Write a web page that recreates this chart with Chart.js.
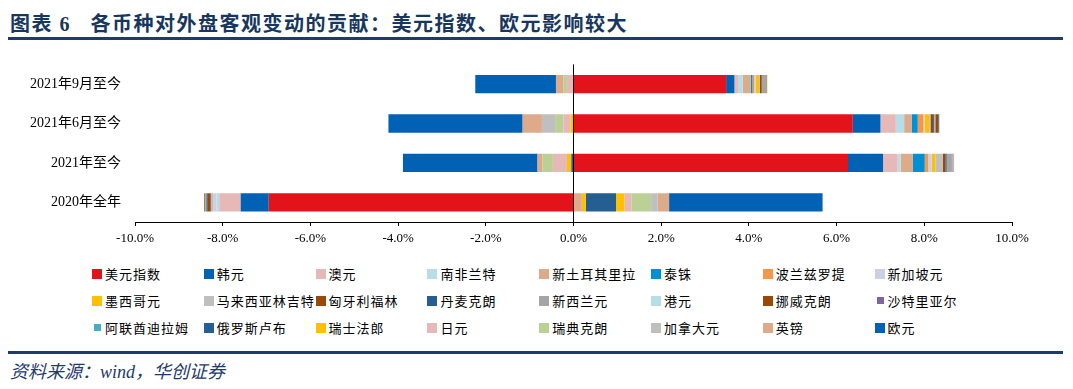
<!DOCTYPE html>
<html>
<head>
<meta charset="utf-8">
<script src="https://cdn.jsdelivr.net/npm/chart.js@4/dist/chart.umd.min.js"></script>
<style>
  html, body { margin: 0; padding: 0; background: #fff; }
  #wrap { position: relative; width: 1073px; height: 389px; overflow: hidden; }
  #title {
    position: absolute; left: 10px; top: 8px;
    font: bold 20px "Liberation Serif", "Noto Sans CJK SC", serif;
    color: #17375E; letter-spacing: 1.5px; white-space: pre;
  }
  .rule { position: absolute; left: 8px; width: 1055px; height: 3px; background: #1F3A6E; }
  #chartBox { position: absolute; left: 0; top: 50px; width: 1073px; height: 200px; }
  #legend { position: absolute; left: 0; top: 0; width: 1073px; }
  .item {
    position: absolute; display: flex; align-items: center;
    font: 13px "Noto Sans CJK SC", sans-serif; color: #000; letter-spacing: 1px; white-space: nowrap;
  }
  .sw { width: 10px; height: 10px; margin-right: 3px; }
  #source {
    position: absolute; left: 10px; top: 357px;
    font: italic 18px "Liberation Serif", "Noto Sans CJK SC", serif; color: #1F3A6E;
  }
</style>
</head>
<body>
<div id="wrap">
  <div id="title">图表 6   各币种对外盘客观变动的贡献：美元指数、欧元影响较大</div>
  <div class="rule" style="top:37px"></div>
  <div id="chartBox"><canvas id="chart" width="1073" height="200"></canvas></div>
  <div id="legend"></div>
  <div class="rule" style="top:351px"></div>
  <div id="source">资料来源：wind，华创证券</div>
</div>
<script>
// categories, top to bottom
const categories = ['2021年9月至今', '2021年6月至今', '2021年至今', '2020年全年']

// currency names and their colours (legend order = stacking order)
const names = ['美元指数', '韩元', '澳元', '南非兰特', '新土耳其里拉', '泰铢', '波兰兹罗提', '新加坡元',
  '墨西哥元', '马来西亚林吉特', '匈牙利福林', '丹麦克朗', '新西兰元', '港元', '挪威克朗', '沙特里亚尔',
  '阿联酋迪拉姆', '俄罗斯卢布', '瑞士法郎', '日元', '瑞典克朗', '加拿大元', '英镑', '欧元']
const colors = ['#E3131B', '#0061B5', '#E6B9B8', '#B7DEE8', '#DDAA8A', '#0090D6', '#F79646', '#CCD0E5',
  '#FFC000', '#BFBFBF', '#984807', '#255E91', '#A5A5A5', '#B7DEE8', '#984807', '#8064A2',
  '#4BACC6', '#255E91', '#FFC000', '#E6B9B8', '#BBD094', '#BFBFBF', '#DDAA8A', '#0061B5']

// contribution (%), one array per currency, in category order
const usd = [3.48, 6.37, 6.26, -6.95]
const krw = [0.19, 0.63, 0.80, -0.64]
const aud = [0.08, 0.35, 0.33, -0.49]
const zar = [0.11, 0.19, 0.07, -0.06]
const tryL = [0.18, 0.17, 0.28, 0.19]
const thb = [0.04, 0.14, 0.27, 0]
const pln = [0.04, 0.13, 0.08, 0]
const sgd = [0.03, 0.03, 0.08, -0.08]
const mxn = [0.08, 0.10, 0.08, 0.09]
const myr = [0.02, 0.03, 0.17, -0.05]
const huf = [0.04, 0.06, 0.06, -0.07]
const dkk = [0.01, 0.02, 0.03, -0.03]
const nzd = [0.09, 0.02, 0.12, -0.03]
const hkd = [0, 0.01, 0.01, 0]
const nok = [0.01, 0.07, 0.01, -0.02]
const sar = [0, 0, 0.01, 0]
const aed = [0, 0, 0, 0]
const rub = [0, 0.02, -0.05, 0.69]
const chf = [0.01, -0.07, -0.10, 0.19]
const jpy = [-0.15, -0.16, -0.32, 0.16]
const sek = [-0.08, -0.19, -0.24, 0.45]
const cad = [0.01, -0.30, 0.02, 0.15]
const gbp = [-0.17, -0.44, -0.11, 0.26]
const eur = [-1.84, -3.06, -3.07, 3.50]

const values = [usd, krw, aud, zar, tryL, thb, pln, sgd, mxn, myr, huf, dkk, nzd, hkd, nok, sar,
  aed, rub, chf, jpy, sek, cad, gbp, eur]

const datasets = names.map((n, i) => ({
  label: n,
  data: values[i],
  backgroundColor: colors[i],
  borderWidth: 0,
  categoryPercentage: 0.8,
  barPercentage: 0.58
}))

const axisFont = { family: '"Liberation Serif", "Noto Sans CJK SC", serif', size: 13 }

new Chart(document.getElementById('chart'), {
  type: 'bar',
  data: { labels: categories, datasets },
  options: {
    indexAxis: 'y',
    responsive: false,
    animation: false,
    layout: { padding: { top: 13, right: 61, bottom: 0, left: 0 } },
    plugins: { legend: { display: false }, tooltip: { enabled: false } },
    scales: {
      x: {
        stacked: true,
        min: -10, max: 10,
        ticks: {
          stepSize: 2, color: '#000', font: axisFont, padding: 5,
          callback: v => v.toFixed(1) + '%'
        },
        grid: {
          drawOnChartArea: true,
          color: c => (c.tick && c.tick.value === 0 ? '#000' : 'transparent'),
          tickColor: '#000', tickLength: 4, lineWidth: 1
        },
        border: { display: true, color: '#000', width: 1 },
        afterFit: s => { s.height = 28 }
      },
      y: {
        stacked: true,
        ticks: { color: '#000', font: { ...axisFont, size: 14 }, padding: 6 },
        grid: { display: false },
        border: { display: false },
        afterFit: s => { s.width = 135 }
      }
    }
  }
})

// legend: 3 rows x 8 columns
const legend = document.getElementById('legend')
names.forEach((n, i) => {
  const row = Math.floor(i / 8), col = i % 8
  const el = document.createElement('div')
  el.className = 'item'
  el.style.left = (92 + col * 111.8) + 'px'
  el.style.top = (264 + row * 27.2) + 'px'
  const small = (n === '沙特里亚尔' || n === '阿联酋迪拉姆')
  el.innerHTML = `<span class="sw" style="background:${colors[i]};${small ? 'width:7px;height:7px;margin-left:2px;margin-right:4px;' : ''}"></span>${n}`
  legend.appendChild(el)
})
</script>
</body>
</html>
